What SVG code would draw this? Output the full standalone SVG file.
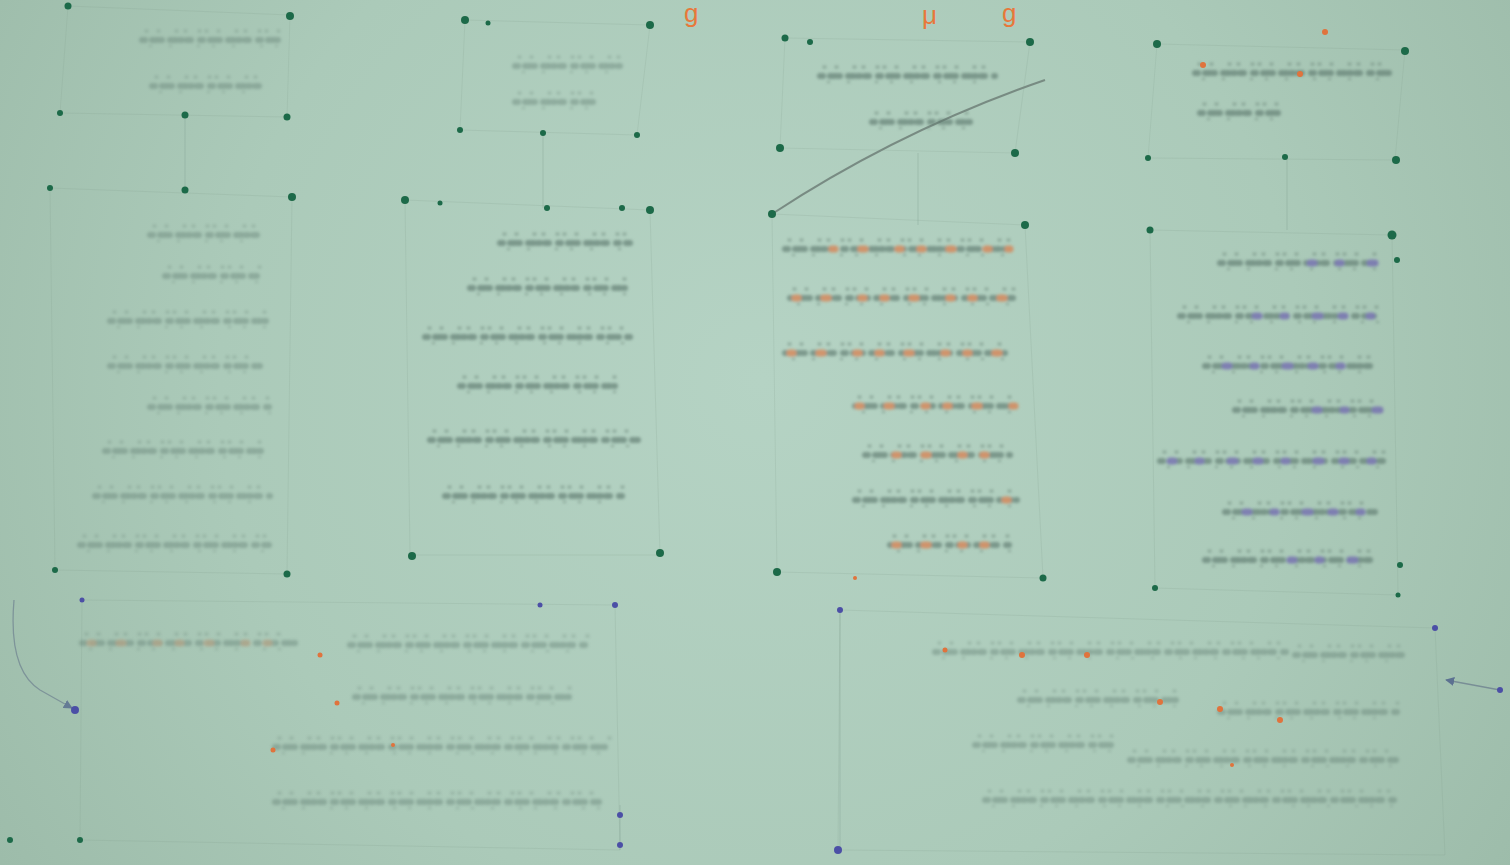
<svg xmlns="http://www.w3.org/2000/svg" width="1510" height="865" viewBox="0 0 1510 865">
<defs>
<radialGradient id="bg" cx="760" cy="380" r="900" gradientUnits="userSpaceOnUse">
<stop offset="0" stop-color="#b5d3c4"/>
<stop offset="0.6" stop-color="#abcab9"/>
<stop offset="1" stop-color="#9dbcaa"/>
</radialGradient>
<filter id="soft" filterUnits="userSpaceOnUse" x="0" y="0" width="1510" height="865"><feGaussianBlur stdDeviation="1.8"/></filter>
<filter id="dsoft" filterUnits="userSpaceOnUse" x="0" y="0" width="1510" height="865"><feGaussianBlur stdDeviation="0.7"/></filter>
<marker id="arr" viewBox="0 0 10 10" refX="9" refY="5" markerWidth="7" markerHeight="7" orient="auto-start-reverse"><path d="M0 0 L10 5 L0 10 z" fill="#4b5e8a"/></marker>
<style>
.edge{fill:none;stroke:#7f9c8d;stroke-width:1.1;opacity:0.3}
.box{fill:none;stroke:#7f9c8d;stroke-width:1;opacity:0.18}
.dot{fill:#1e6a48}
.pdot{fill:#4c4fa6}
.odot{fill:#e0733c}
.dots{filter:url(#dsoft)}
.txt{filter:url(#soft)}
.faint{opacity:0.4}
.mid{opacity:0.65}
.g1{fill:none;stroke:#5f7a70;stroke-width:6;stroke-linecap:round;stroke-dasharray:3 7 5 3 2 8 6 4 2 5 4 9}
.g2{fill:none;stroke:#6f8a7e;stroke-width:3;stroke-linecap:round;stroke-dasharray:1 11 1 17 1 8 1 13 1 6}
.g3{fill:none;stroke:#7a9488;stroke-width:2.5;stroke-linecap:round;stroke-dasharray:1 19 1 27 1 14}
.oa{fill:none;stroke:#e0733c;stroke-width:7;stroke-linecap:round;stroke-dasharray:3 26 4 33 3 19}
.pa{fill:none;stroke:#6656ad;stroke-width:7;stroke-linecap:round;stroke-dasharray:4 24 3 29 5 21}
.mk{font-family:"Liberation Sans",Arial,sans-serif;font-size:26px;fill:#e8783a}
</style>
</defs>
<rect width="1510" height="865" fill="url(#bg)"/>

<text class="mk" x="684" y="22">g</text>
<text class="mk" x="922" y="24">μ</text>
<text class="mk" x="1002" y="22">g</text>

<g id="connectors">
<path class="edge" d="M185 117 V190"/>
<path class="edge" d="M543 133 V208"/>
<path class="edge" d="M918 153 V225"/>
<path class="edge" d="M1287 157 V230"/>
<path d="M772 214 Q900 130 1045 80" fill="none" stroke="#6e7f78" stroke-width="2" opacity="0.85"/>
<path class="edge" d="M840 610 V850"/>
<path class="edge" d="M620 805 V850"/>
<path d="M14 600 Q8 670 40 690 L72 708" fill="none" stroke="#6f8290" stroke-width="1.3" opacity="0.7" marker-end="url(#arr)"/>
<path d="M1500 690 L1446 680" fill="none" stroke="#6f8290" stroke-width="1.3" opacity="0.8" marker-end="url(#arr)"/>
</g>

<g id="node-c1-title">
<path class="box" d="M68 6 L290 15 L287 117 L60 113 Z"/>
<g class="txt faint">
<path class="g1" d="M142 40 H280"/><path class="g2" d="M146 31 H280"/><path class="g3" d="M150 46 H280"/>
<path class="g1" d="M152 86 H265"/><path class="g2" d="M156 77 H265"/><path class="g3" d="M160 92 H265"/>
</g>
<g class="dots"><circle class="dot" cx="68" cy="6" r="3.5"/><circle class="dot" cx="290" cy="16" r="4"/><circle class="dot" cx="60" cy="113" r="3"/><circle class="dot" cx="185" cy="115" r="3.5"/><circle class="dot" cx="287" cy="117" r="3.5"/></g>
</g>

<g id="node-c1-list">
<path class="box" d="M50 188 L292 197 L287 574 L55 570 Z"/>
<g class="txt faint">
<path class="g1" d="M150 235 H260"/><path class="g2" d="M154 226 H260"/><path class="g3" d="M158 241 H260"/>
<path class="g1" d="M165 276 H260"/><path class="g2" d="M169 267 H260"/><path class="g3" d="M173 282 H260"/>
<path class="g1" d="M110 321 H270"/><path class="g2" d="M114 312 H270"/><path class="g3" d="M118 327 H270"/>
<path class="g1" d="M110 366 H262"/><path class="g2" d="M114 357 H262"/><path class="g3" d="M118 372 H262"/>
<path class="g1" d="M150 407 H270"/><path class="g2" d="M154 398 H270"/><path class="g3" d="M158 413 H270"/>
<path class="g1" d="M105 451 H265"/><path class="g2" d="M109 442 H265"/><path class="g3" d="M113 457 H265"/>
<path class="g1" d="M95 496 H270"/><path class="g2" d="M99 487 H270"/><path class="g3" d="M103 502 H270"/>
<path class="g1" d="M80 545 H270"/><path class="g2" d="M84 536 H270"/><path class="g3" d="M88 551 H270"/>
</g>
<g class="dots"><circle class="dot" cx="50" cy="188" r="3"/><circle class="dot" cx="185" cy="190" r="3.5"/><circle class="dot" cx="292" cy="197" r="4"/><circle class="dot" cx="55" cy="570" r="3"/><circle class="dot" cx="287" cy="574" r="3.5"/></g>
</g>

<g id="node-c2-title">
<path class="box" d="M465 20 L650 25 L637 135 L460 130 Z"/>
<g class="txt faint">
<path class="g1" d="M515 66 H620"/><path class="g2" d="M519 57 H620"/><path class="g3" d="M523 72 H620"/>
<path class="g1" d="M515 102 H600"/><path class="g2" d="M519 93 H600"/><path class="g3" d="M523 108 H600"/>
</g>
<g class="dots"><circle class="dot" cx="465" cy="20" r="4"/><circle class="dot" cx="488" cy="23" r="2.5"/><circle class="dot" cx="650" cy="25" r="4"/><circle class="dot" cx="460" cy="130" r="3"/><circle class="dot" cx="543" cy="133" r="3"/><circle class="dot" cx="637" cy="135" r="3"/></g>
</g>

<g id="node-c2-list">
<path class="box" d="M405 200 L650 210 L660 555 L410 555 Z"/>
<g class="txt mid">
<path class="g1" d="M500 243 H630"/><path class="g2" d="M504 234 H630"/><path class="g3" d="M508 249 H630"/>
<path class="g1" d="M470 288 H625"/><path class="g2" d="M474 279 H625"/><path class="g3" d="M478 294 H625"/>
<path class="g1" d="M425 337 H630"/><path class="g2" d="M429 328 H630"/><path class="g3" d="M433 343 H630"/>
<path class="g1" d="M460 386 H615"/><path class="g2" d="M464 377 H615"/><path class="g3" d="M468 392 H615"/>
<path class="g1" d="M430 440 H640"/><path class="g2" d="M434 431 H640"/><path class="g3" d="M438 446 H640"/>
<path class="g1" d="M445 496 H625"/><path class="g2" d="M449 487 H625"/><path class="g3" d="M453 502 H625"/>
</g>
<g class="dots"><circle class="dot" cx="405" cy="200" r="4"/><circle class="dot" cx="440" cy="203" r="2.5"/><circle class="dot" cx="547" cy="208" r="3"/><circle class="dot" cx="622" cy="208" r="3"/><circle class="dot" cx="650" cy="210" r="4"/><circle class="dot" cx="412" cy="556" r="4"/><circle class="dot" cx="660" cy="553" r="4"/></g>
</g>

<g id="node-c3-title">
<path class="box" d="M785 38 L1030 42 L1015 153 L780 148 Z"/>
<g class="txt mid">
<path class="g1" d="M820 76 H995"/><path class="g2" d="M824 67 H995"/><path class="g3" d="M828 82 H995"/>
<path class="g1" d="M872 122 H970"/><path class="g2" d="M876 113 H970"/><path class="g3" d="M880 128 H970"/>
</g>
<g class="dots"><circle class="dot" cx="785" cy="38" r="3.5"/><circle class="dot" cx="810" cy="42" r="3"/><circle class="dot" cx="1030" cy="42" r="4"/><circle class="dot" cx="780" cy="148" r="4"/><circle class="dot" cx="1015" cy="153" r="4"/></g>
</g>

<g id="node-c3-list">
<path class="box" d="M772 214 L1025 225 L1043 578 L777 572 Z"/>
<g class="txt mid">
<path class="g1" d="M785 249 H1010"/><path class="g2" d="M789 240 H1010"/><path class="g3" d="M793 255 H1010"/><path class="oa" d="M832 249 H1010"/>
<path class="g1" d="M790 298 H1018"/><path class="g2" d="M794 289 H1018"/><path class="g3" d="M798 304 H1018"/><path class="oa" d="M795 298 H1018"/>
<path class="g1" d="M785 353 H1005"/><path class="g2" d="M789 344 H1005"/><path class="g3" d="M793 359 H1005"/><path class="oa" d="M790 353 H1005"/>
<path class="g1" d="M855 406 H1015"/><path class="g2" d="M859 397 H1015"/><path class="g3" d="M863 412 H1015"/><path class="oa" d="M858 406 H1015"/>
<path class="g1" d="M865 455 H1010"/><path class="g2" d="M869 446 H1010"/><path class="g3" d="M873 461 H1010"/><path class="oa" d="M895 455 H1010"/>
<path class="g1" d="M855 500 H1017"/><path class="g2" d="M859 491 H1017"/><path class="g3" d="M863 506 H1017"/><path class="oa" d="M1005 500 H1017"/>
<path class="g1" d="M890 545 H1010"/><path class="g2" d="M894 536 H1010"/><path class="g3" d="M898 551 H1010"/><path class="oa" d="M895 545 H1010"/>
</g>
<g class="dots"><circle class="dot" cx="772" cy="214" r="4"/><circle class="dot" cx="1025" cy="225" r="4"/><circle class="dot" cx="777" cy="572" r="4"/><circle class="odot" cx="855" cy="578" r="2"/><circle class="dot" cx="1043" cy="578" r="3.5"/></g>
</g>

<g id="node-c4-title">
<path class="box" d="M1157 44 L1405 50 L1395 160 L1148 158 Z"/>
<g class="txt mid">
<path class="g1" d="M1195 73 H1390"/><path class="g2" d="M1199 64 H1390"/><path class="g3" d="M1203 79 H1390"/>
<path class="g1" d="M1200 113 H1280"/><path class="g2" d="M1204 104 H1280"/><path class="g3" d="M1208 119 H1280"/>
</g>
<g class="dots"><circle class="odot" cx="1203" cy="65" r="3"/><circle class="odot" cx="1300" cy="74" r="3"/><circle class="odot" cx="1325" cy="32" r="3"/>
<circle class="dot" cx="1157" cy="44" r="4"/><circle class="dot" cx="1405" cy="51" r="4"/><circle class="dot" cx="1148" cy="158" r="3"/><circle class="dot" cx="1285" cy="157" r="3"/><circle class="dot" cx="1396" cy="160" r="4"/></g>
</g>

<g id="node-c4-list">
<path class="box" d="M1150 230 L1392 235 L1398 595 L1155 588 Z"/>
<g class="txt mid">
<path class="g1" d="M1220 263 H1375"/><path class="g2" d="M1224 254 H1375"/><path class="g3" d="M1228 269 H1375"/><path class="pa" d="M1310 263 H1375"/>
<path class="g1" d="M1180 316 H1380"/><path class="g2" d="M1184 307 H1380"/><path class="g3" d="M1188 322 H1380"/><path class="pa" d="M1255 316 H1380"/>
<path class="g1" d="M1205 366 H1370"/><path class="g2" d="M1209 357 H1370"/><path class="g3" d="M1213 372 H1370"/><path class="pa" d="M1225 366 H1370"/>
<path class="g1" d="M1235 410 H1380"/><path class="g2" d="M1239 401 H1380"/><path class="g3" d="M1243 416 H1380"/><path class="pa" d="M1315 410 H1380"/>
<path class="g1" d="M1160 461 H1385"/><path class="g2" d="M1164 452 H1385"/><path class="g3" d="M1168 467 H1385"/><path class="pa" d="M1170 461 H1385"/>
<path class="g1" d="M1225 512 H1375"/><path class="g2" d="M1229 503 H1375"/><path class="g3" d="M1233 518 H1375"/><path class="pa" d="M1245 512 H1375"/>
<path class="g1" d="M1205 560 H1370"/><path class="g2" d="M1209 551 H1370"/><path class="g3" d="M1213 566 H1370"/><path class="pa" d="M1290 560 H1370"/>
</g>
<g class="dots"><circle class="dot" cx="1150" cy="230" r="3.5"/><circle class="dot" cx="1392" cy="235" r="4.5"/><circle class="dot" cx="1397" cy="260" r="3"/><circle class="dot" cx="1400" cy="565" r="3"/><circle class="dot" cx="1155" cy="588" r="3"/><circle class="dot" cx="1398" cy="595" r="2.5"/></g>
</g>

<g id="node-bottom-left">
<path class="box" d="M82 600 L615 605 L620 850 L80 840 Z"/>
<g class="txt faint">
<path class="g1" d="M82 643 H295"/><path class="g2" d="M86 634 H295"/><path class="g3" d="M90 649 H295"/><path class="oa" d="M90 643 H295" style="opacity:0.6"/>
<path class="g1" d="M350 645 H590"/><path class="g2" d="M354 636 H590"/><path class="g3" d="M358 651 H590"/>
<path class="g1" d="M355 697 H570"/><path class="g2" d="M359 688 H570"/><path class="g3" d="M363 703 H570"/>
<path class="g1" d="M275 747 H610"/><path class="g2" d="M279 738 H610"/><path class="g3" d="M283 753 H610"/>
<path class="g1" d="M275 802 H600"/><path class="g2" d="M279 793 H600"/><path class="g3" d="M283 808 H600"/>
</g>
<g class="dots"><circle class="odot" cx="320" cy="655" r="2.5"/><circle class="odot" cx="337" cy="703" r="2.5"/><circle class="odot" cx="273" cy="750" r="2.5"/><circle class="odot" cx="393" cy="745" r="2"/>
<circle class="pdot" cx="82" cy="600" r="2.5"/><circle class="pdot" cx="540" cy="605" r="2.5"/><circle class="pdot" cx="615" cy="605" r="3"/><circle class="pdot" cx="75" cy="710" r="4"/><circle class="pdot" cx="620" cy="815" r="3"/><circle class="pdot" cx="620" cy="845" r="3"/><circle class="dot" cx="80" cy="840" r="3"/><circle class="dot" cx="10" cy="840" r="3"/></g>
</g>

<g id="node-bottom-right">
<path class="box" d="M840 610 L1435 628 L1445 855 L838 850 Z"/>
<g class="txt faint">
<path class="g1" d="M935 652 H1290"/><path class="g2" d="M939 643 H1290"/><path class="g3" d="M943 658 H1290"/>
<path class="g1" d="M1295 655 H1405"/><path class="g2" d="M1299 646 H1405"/><path class="g3" d="M1303 661 H1405"/>
<path class="g1" d="M1020 700 H1180"/><path class="g2" d="M1024 691 H1180"/><path class="g3" d="M1028 706 H1180"/>
<path class="g1" d="M1220 712 H1400"/><path class="g2" d="M1224 703 H1400"/><path class="g3" d="M1228 718 H1400"/>
<path class="g1" d="M975 745 H1115"/><path class="g2" d="M979 736 H1115"/><path class="g3" d="M983 751 H1115"/>
<path class="g1" d="M1130 760 H1400"/><path class="g2" d="M1134 751 H1400"/><path class="g3" d="M1138 766 H1400"/>
<path class="g1" d="M985 800 H1400"/><path class="g2" d="M989 791 H1400"/><path class="g3" d="M993 806 H1400"/>
</g>
<g class="dots"><circle class="odot" cx="945" cy="650" r="2.5"/><circle class="odot" cx="1022" cy="655" r="3"/><circle class="odot" cx="1087" cy="655" r="3"/><circle class="odot" cx="1160" cy="702" r="3"/><circle class="odot" cx="1220" cy="709" r="3"/><circle class="odot" cx="1280" cy="720" r="3"/><circle class="odot" cx="1232" cy="765" r="2"/>
<circle class="pdot" cx="840" cy="610" r="3"/><circle class="pdot" cx="838" cy="850" r="4"/><circle class="pdot" cx="1435" cy="628" r="3"/><circle class="pdot" cx="1500" cy="690" r="3"/></g>
</g>
</svg>
